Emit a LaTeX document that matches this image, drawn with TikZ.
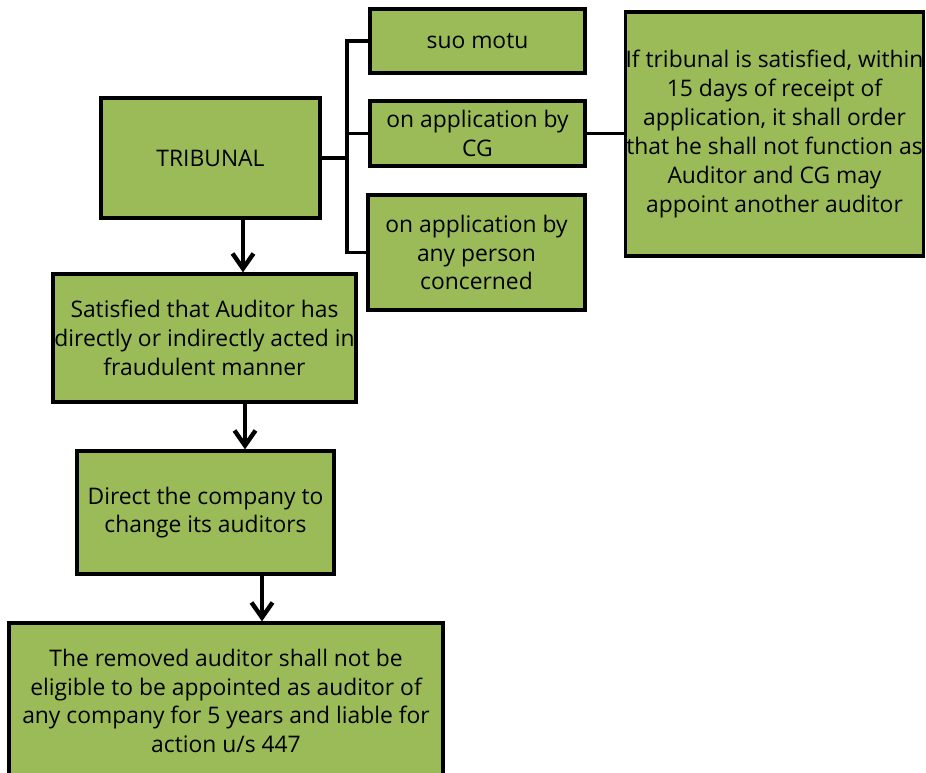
\documentclass[tikz,border=0pt]{standalone}
\usepackage{fontspec}
\setmainfont{Open Sans}
\usetikzlibrary{arrows.meta}
\definecolor{boxgreen}{HTML}{9BBB59}
\def\pxu{0.02cm}
\tikzset{
    box/.style 2 args={draw=black, fill=boxgreen, line width=1.9pt, align=center,
        inner sep=0pt, minimum width=#1*\pxu, minimum height=#2*\pxu,
        font=\fontsize{13}{16.4}\selectfont},
    link/.style={line width=2.2pt},
    arr/.style={line width=2.5pt, -{Straight Barb[length=3mm, width=4.2mm, line width=2.5pt]}},
}
\begin{document}
\begin{tikzpicture}[x=0.02cm, y=-0.02cm]
    \clip (0,0) rectangle (926,773);
    % boxes
    \node[box={219}{120}] (tri) at (210.5,158) {TRIBUNAL};
    \node[box={215}{64}] (suo) at (477.5,41) {suo motu};
    \node[box={215}{65}] (cg) at (477.5,133.5) {on application by\\CG};
    \node[box={217}{115}] (anyp) at (476.5,252.5) {on application by\\any person\\concerned};
    \node[box={297}{244}] (order) at (774.5,134) {If tribunal is satisfied, within\\15 days of receipt of\\application, it shall order\\that he shall not function as\\Auditor and CG may\\appoint another auditor};
    \node[box={303}{128}] (sat) at (204.5,338) {Satisfied that Auditor has\\directly or indirectly acted in\\fraudulent manner};
    \node[box={257}{123}] (dir) at (205.5,512.5) {Direct the company to\\change its auditors};
    \node[box={434}{156}] (rem) at (226,701) {The removed auditor shall not be\\eligible to be appointed as auditor of\\any company for 5 years and liable for\\action u/s 447};

    % fork to the three ways
    \coordinate (fork) at (347,158);
    \draw[link] (tri.east) -- (fork);
    \foreach \b in {suo, cg, anyp} {
        \draw[link] (fork) |- (\b.west);
    };
    \draw[link] (cg.east) -- (order.west |- cg.east);

    % arrows down
    \coordinate (a1) at (243,0);
    \coordinate (a2) at (245,0);
    \coordinate (a3) at (262,0);
    \draw[arr] (tri.south -| a1) -- (sat.north -| a1);
    \draw[arr] (sat.south -| a2) -- (dir.north -| a2);
    \draw[arr] (dir.south -| a3) -- (rem.north -| a3);
\end{tikzpicture}
\end{document}
